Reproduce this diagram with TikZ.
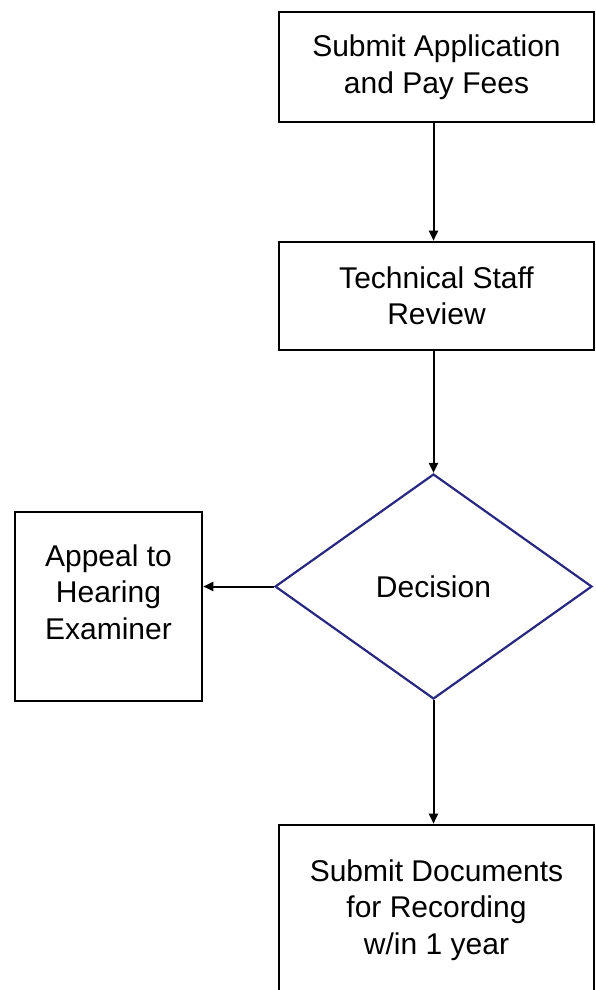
\documentclass[tikz,border=0pt]{standalone}
\usepackage{fontspec}
\setmainfont{Liberation Sans}
\usetikzlibrary{shapes.geometric,arrows.meta}
\definecolor{navy}{RGB}{40,40,128}
\begin{document}
\begin{tikzpicture}[x=1pt,y=-1pt,
  txtfont/.style={font=\fontsize{30}{36.5}\selectfont, align=center},
  box/.style={draw=black, line width=2.6pt, inner sep=0pt, txtfont},
  dia/.style={diamond, draw=navy, line width=2.2pt, inner sep=0pt, txtfont},
  plain/.style={inner sep=0pt, txtfont},
  arr/.style={draw=black, line width=2pt, -{Triangle[length=10pt,width=9pt]}}]
\useasboundingbox (0,0) rectangle (596,990);
\node[box, minimum width=315pt, minimum height=110pt] (submit) at (436.5,67) {Submit Application\\and Pay Fees};
\node[box, minimum width=315pt, minimum height=108pt] (review) at (436.5,296) {Technical Staff\\Review};
\node[dia, minimum width=317pt, minimum height=225pt] (decision) at (433.5,586.5) {Decision};
\node[box, minimum width=187pt, minimum height=189pt] (appeal) at (108.5,606.5) {};
\node[plain] (appealtxt) at (108.5,592) {Appeal to\\Hearing\\Examiner};
\node[box, minimum width=315pt, minimum height=170pt] (record) at (436.5,910) {Submit Documents\\for Recording\\w/in 1 year};
\draw[arr] (submit.south -| decision.north) -- (review.north -| decision.north);
\draw[arr] (review.south -| decision.north) -- (decision.north);
\draw[arr] (decision.south) -- (record.north -| decision.south);
\draw[arr] (decision.west) -- (appeal.east |- decision.west);
\end{tikzpicture}
\end{document}
